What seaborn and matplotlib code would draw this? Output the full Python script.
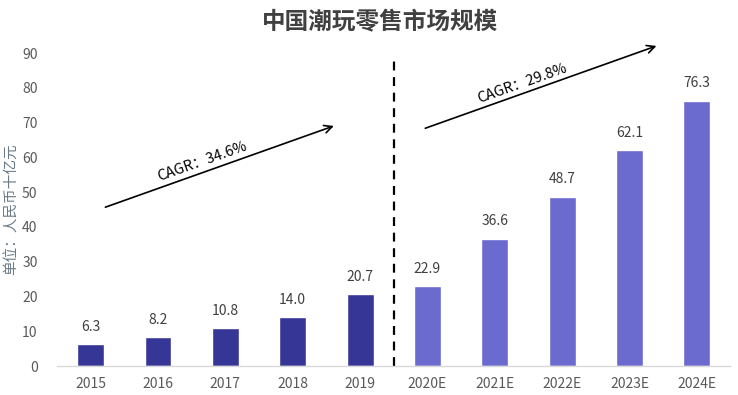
import matplotlib
matplotlib.use("Agg")
import matplotlib.pyplot as plt
import seaborn as sns
import pandas as pd

years = ["2015", "2016", "2017", "2018", "2019", "2020E", "2021E", "2022E", "2023E", "2024E"]
values = [6.3, 8.2, 10.8, 14.0, 20.7, 22.9, 36.6, 48.7, 62.1, 76.3]
kind = ["历史", "历史", "历史", "历史", "历史", "预测", "预测", "预测", "预测", "预测"]
value_labels = ["6.3", "8.2", "10.8", "14.0", "20.7", "22.9", "36.6", "48.7", "62.1", "76.3"]
yticks = [0, 10, 20, 30, 40, 50, 60, 70, 80, 90]
cagr_labels = ["CAGR：34.6%", "CAGR：29.8%"]
title = "中国潮玩零售市场规模"
ylabel = "单位：人民币十亿元"

sns.set_theme(style="white")
plt.rcParams['font.family'] = ['Noto Sans CJK SC', 'DejaVu Sans']

df = pd.DataFrame({"year": years, "value": values, "kind": kind})

fig = plt.figure(figsize=(7.38, 3.95), dpi=100)
ax = fig.add_axes([0.0772, 0.0734, 0.9126, 0.7924])

sns.barplot(data=df, x="year", y="value", hue="kind",
            palette={"历史": "#363696", "预测": "#6B6BCF"}, saturation=1,
            width=0.4, dodge=False, legend=False, ax=ax)

ax.set_ylim(0, 90)
ax.set_xlim(-0.5, 9.5)
ax.set_yticks(yticks)
ax.set_yticklabels([str(t) for t in yticks], color="#595959", fontsize=10)
ax.tick_params(axis="x", colors="#595959", labelsize=10, length=0, pad=8)
ax.tick_params(axis="y", length=0, pad=14)
ax.set_xlabel("")
ax.set_ylabel(ylabel, color="#6a7a86", fontsize=10.5, labelpad=2)
for s in ["top", "right", "left"]:
    ax.spines[s].set_visible(False)
ax.spines["bottom"].set_color("#d9d9d9")
ax.spines["bottom"].set_linewidth(1)

for i, (v, lab) in enumerate(zip(values, value_labels)):
    ax.text(i, v + 3.0, lab, ha="center", va="bottom", fontsize=10, color="#404040")

# divider
ax.plot([4.5, 4.5], [0, 88], ls=(0, (4, 3)), color="black", lw=1.6, clip_on=False)

# CAGR arrows
ax.annotate("", xy=(3.65, 69.3), xytext=(0.18, 45.4),
            arrowprops=dict(arrowstyle="->", color="black", lw=1.2, mutation_scale=14),
            annotation_clip=False)
ax.annotate("", xy=(8.44, 92.3), xytext=(4.93, 68.1),
            arrowprops=dict(arrowstyle="->", color="black", lw=1.2, mutation_scale=14),
            annotation_clip=False)
ax.text(1.66, 58.7, cagr_labels[0], rotation=19.5, ha="center", va="center",
        fontsize=10.5, color="black", rotation_mode="anchor")
ax.text(6.40, 81.2, cagr_labels[1], rotation=19.5, ha="center", va="center",
        fontsize=10.5, color="black", rotation_mode="anchor")

fig.suptitle(title, x=0.515, y=0.975, fontsize=17, fontweight="bold", color="#404040")

fig.savefig("out.png", dpi=100)
